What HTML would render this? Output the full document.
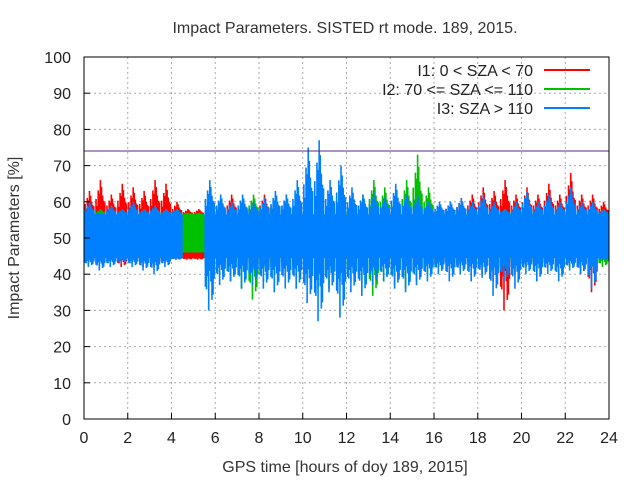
<!DOCTYPE html>
<html><head><meta charset="utf-8"><style>
body{margin:0;background:#fff;}
svg{display:block;font-family:"Liberation Sans",sans-serif;}
</style></head><body>
<svg id="chart" width="640" height="480" viewBox="0 0 640 480">
<text x="345" y="33" text-anchor="middle" font-size="16" fill="#333">Impact Parameters. SISTED rt mode. 189, 2015.</text>
<g id="grid"></g>
<g id="series"></g>
<line x1="84" x2="609" y1="151" y2="151" stroke="#5a2a7a" stroke-width="1"/>
<rect x="84" y="57" width="525" height="362" fill="none" stroke="#000" stroke-width="1"/>
<g id="axes" font-size="16" fill="#222"></g>
<text x="345" y="472" text-anchor="middle" font-size="16" fill="#333">GPS time [hours of doy 189, 2015]</text>
<text transform="translate(19,238) rotate(-90)" text-anchor="middle" font-size="16" fill="#333">Impact Parameters [%]</text>
<g font-size="16" fill="#222" text-anchor="end">
<text x="533" y="76">I1: 0 &lt; SZA &lt; 70</text>
<line x1="544" x2="590" y1="70" y2="70" stroke="#ff0000" stroke-width="2"/>
<text x="533" y="95">I2: 70 &lt;= SZA &lt;= 110</text>
<line x1="544" x2="590" y1="89" y2="89" stroke="#00c000" stroke-width="2"/>
<text x="533" y="114">I3: SZA &gt; 110</text>
<line x1="544" x2="590" y1="108" y2="108" stroke="#0080ff" stroke-width="2"/>
</g>
</svg>
<script>
const xTicks=[0,2,4,6,8,10,12,14,16,18,20,22,24];
const yTicks=[0,10,20,30,40,50,60,70,80,90,100];
const binHours=0.5;
const redHi=[63,66,62,65,64,63,66,65,60,58,58,58,60,62,60,60,62,60,59,60,56,56,56,56,57,57,57,57,57,57,57,57,58,60,61,62,64,63,66,62,64,62,65,62,68,62,62,60];
const redLo=[43,42,43,42,43,42,42,43,44,44,44,42,42,43,42,42,42,42,42,42,44,44,44,44,44,44,44,44,44,44,44,44,42,42,41,42,40,38,30,40,42,41,42,40,42,40,35,44];
const greenHi=[58,58,58,58,58,58,58,58,58,57,57,58,60,58,60,62,60,62,62,60,58,60,58,60,60,62,66,64,62,66,73,64,58,58,58,58,58,58,58,58,58,58,58,58,58,58,58,58];
const greenLo=[44,44,44,44,44,44,44,44,45,46,46,40,40,38,36,33,38,40,40,40,38,36,36,38,38,36,34,38,37,36,38,40,42,42,42,42,42,42,42,42,42,42,42,42,42,42,42,42];
const blueHi=[60,57,59,58,60,58,59,58,58,null,null,66,62,60,62,60,61,63,62,66,75,77,66,70,64,62,63,61,65,62,62,60,60,60,61,60,62,60,58,60,63,60,62,60,64,60,60,58];
const blueLo=[42,41,42,43,42,41,40,42,44,null,null,30,37,38,36,37,36,35,36,36,32,27,35,28,35,34,37,38,36,35,37,38,40,38,40,38,39,34,38,36,40,38,40,38,41,40,36,44];
const NS='http://www.w3.org/2000/svg';
function sx(h){return 84+h*525/24;}
function sy(v){return 419-v*3.62;}
function mk(t,a,p){const e=document.createElementNS(NS,t);for(const k in a)e.setAttribute(k,a[k]);p.appendChild(e);return e;}
const grid=document.getElementById('grid'),axes=document.getElementById('axes'),ser=document.getElementById('series');
xTicks.forEach(t=>{
 if(t>0&&t<24){const l=mk('line',{x1:sx(t),x2:sx(t),y1:57,y2:419,stroke:'#aaa','stroke-dasharray':'2,3'},grid);
 
 }
 const tk=mk('line',{x1:sx(t),x2:sx(t),y1:419,y2:413,stroke:'#000'},axes);
 
 
 const tx=mk('text',{x:sx(t),y:443,'text-anchor':'middle'},axes);tx.textContent=t;
 
 
});
yTicks.forEach(t=>{
 if(t>0&&t<100){const l=mk('line',{x1:84,x2:609,y1:sy(t),y2:sy(t),stroke:'#aaa','stroke-dasharray':'2,3'},grid);
 
 }
 const tk=mk('line',{x1:84,x2:90,y1:sy(t),y2:sy(t),stroke:'#000'},axes);
 
 
 const tx=mk('text',{x:71,y:sy(t)+6,'text-anchor':'end'},axes);tx.textContent=t;
 
 
});
const spikeOff=[0.1,0.3,0.5,0.7,0.9,0.2,0.6,0.8,0.4];
const spikeFrac=[0.45,0.7,1.0,0.55,0.35,0.25,0.8,0.4,0.6];
function drawSeries(hi,lo,color,name){
 const g=mk('g',{},ser);
 
 
 hi.forEach((v,i)=>{
  if(v==null||lo[i]==null)return;
  const x0=sx(i*binHours),x1=sx((i+1)*binHours);
  const cTop=Math.min(v,(v+56)/2,56.5),cBot=Math.max(lo[i],(lo[i]+45)/2,44.5);
  const r=mk('rect',{x:x0,y:sy(cTop),width:x1-x0+0.3,height:sy(cBot)-sy(cTop),fill:color},g);
  
  
  spikeOff.forEach((o,k)=>{
   const x=x0+o*(x1-x0);
   const top=cTop+(v-cTop)*spikeFrac[k];
   const kb=(k+3)%spikeFrac.length;
   const bot=cBot-(cBot-lo[i])*spikeFrac[kb];
   const l=mk('line',{x1:x,x2:x,y1:sy(top),y2:sy(bot),stroke:color,'stroke-width':1.6},g);
   
   
  });
 });
}
drawSeries(redHi,redLo,'#ff0000','series-i1');
drawSeries(greenHi,greenLo,'#00c000','series-i2');
drawSeries(blueHi,blueLo,'#0080ff','series-i3');
</script>
</body></html>
